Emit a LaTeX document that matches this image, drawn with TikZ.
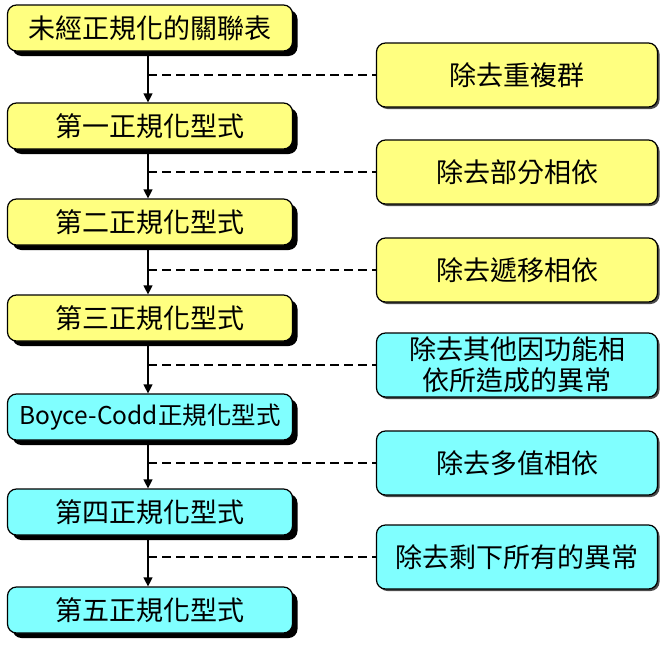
\documentclass[tikz,border=0pt]{standalone}
\usepackage{fontspec}
\setmainfont{Noto Sans CJK TC}
\usetikzlibrary{arrows.meta,shadows}
\definecolor{ylw}{HTML}{FFFF80}
\definecolor{cyn}{HTML}{80FFFF}
\tikzset{
 x=1pt,y=-1pt,
 lbox/.style={draw=black,line width=1.2pt,rounded corners=9pt,minimum width=285pt,minimum height=46pt,inner sep=0pt,font=\fontsize{27}{30}\selectfont,
   drop shadow={shadow xshift=5pt,shadow yshift=-5pt,fill=black,opacity=1}},
 rbox/.style={draw=black,line width=1.2pt,rounded corners=9pt,minimum width=281pt,minimum height=64pt,inner sep=0pt,align=center,font=\fontsize{27}{31}\selectfont,
   drop shadow={shadow xshift=2pt,shadow yshift=-2pt,fill=black!70,opacity=1}},
 arr/.style={line width=1.2pt,-{Triangle[length=9pt,width=9pt]}},
 dsh/.style={line width=1.2pt,dashed,dash pattern=on 9pt off 5pt}
}
\begin{document}
\begin{tikzpicture}
\useasboundingbox (0,0) rectangle (664,645);
\node[lbox,fill=ylw] (l1) at (150,28) {未經正規化的關聯表};
\node[lbox,fill=ylw] (l2) at (150,126) {第一正規化型式};
\node[lbox,fill=ylw] (l3) at (150,222) {第二正規化型式};
\node[lbox,fill=ylw] (l4) at (150,318) {第三正規化型式};
\node[lbox,fill=cyn,font=\fontsize{24.5}{26}\selectfont] (l5) at (150,417) {Boyce-Codd正規化型式};
\node[lbox,fill=cyn] (l6) at (150,512) {第四正規化型式};
\node[lbox,fill=cyn] (l7) at (150,610) {第五正規化型式};
\node[rbox,fill=ylw] (r1) at (517,75) {除去重複群};
\node[rbox,fill=ylw] (r2) at (517,172) {除去部分相依};
\node[rbox,fill=ylw] (r3) at (517,270) {除去遞移相依};
\node[rbox,fill=cyn] (r4) at (517,365) {除去其他因功能相\\依所造成的異常};
\node[rbox,fill=cyn] (r5) at (517,463) {除去多值相依};
\node[rbox,fill=cyn] (r6) at (517,557) {除去剩下所有的異常};
\foreach \a/\b/\r in {l1/l2/r1,l2/l3/r2,l3/l4/r3,l4/l5/r4,l5/l6/r5,l6/l7/r6}{
  \draw[arr] ([xshift=-2pt]\a.south) -- ([xshift=-2pt]\b.north);
  \draw[dsh] ([xshift=-2pt]\a.south |- \r.west) -- (\r.west);
}
\end{tikzpicture}
\end{document}
